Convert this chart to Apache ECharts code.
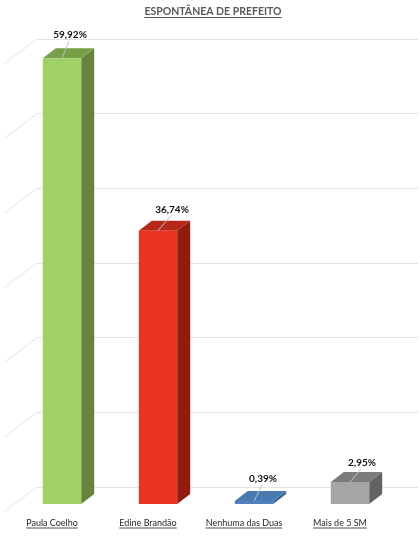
<!DOCTYPE html>
<html><head><meta charset="utf-8">
<style>html,body{margin:0;padding:0;background:#fff}#c{width:420px;height:543px}</style>
<script src="https://cdn.jsdelivr.net/npm/echarts@6/dist/echarts.min.js"></script>
</head><body><div id="c"></div>
<script>
const titleText = 'ESPONTÂNEA DE PREFEITO';
const categories = ['Paula Coelho', 'Edine Brandão', 'Nenhuma das Duas', 'Mais de 5 SM'];
const values = [59.92, 36.74, 0.39, 2.95];
const faceColors = ['#A1D066', '#E93423', '#4F81BD', '#A5A5A5'];
const sideColors = ['#67843F', '#921B10', '#3A6596', '#636363'];
const topColors = ['#789F47', '#B5281A', '#4A7AB2', '#7C7C7C'];
const leaderOffsets = [[8, -23], [14, -21], [9, -22], [12, -19]];

const FONT = 'Lato, "Open Sans", sans-serif';
const LABEL_SIZE = 9, LABEL_SHIFT = 10, LABEL_UNDERLINE_Y = 528;
const DEPTH_X = 13, DEPTH_Y = 10, BAR_W = 38.4;
const WALL_DX = 33, WALL_DY = 25;

function measure(text, font) {
  return new echarts.graphic.Text({ style: { text, font } }).getBoundingRect().width;
}
const fmt = v => v.toFixed(2).replace('.', ',') + '%';

const chart = echarts.init(document.getElementById('c'), null, { renderer: 'canvas' });
const titleFont = 'bold 10.5px ' + FONT;
const titleW = measure(titleText, titleFont);

chart.setOption({
  animation: false,
  backgroundColor: '#fff',
  title: {
    text: titleText, left: 213, top: 6, textAlign: 'center', padding: 0,
    textStyle: { fontFamily: FONT, fontSize: 10.5, fontWeight: 'bold', color: '#595959' }
  },
  graphic: [{
    type: 'line', silent: true,
    shape: { x1: 213 - titleW / 2, y1: 17.5, x2: 213 + titleW / 2, y2: 17.5 },
    style: { stroke: '#595959', lineWidth: 1 }
  }],
  grid: [
    { left: 14, width: 384, top: 57.6, height: 446.4 },
    { left: 37, right: 2, top: 39, bottom: 56 }
  ],
  xAxis: [
    { type: 'category', gridIndex: 0, data: categories,
      axisLine: { show: false }, axisTick: { show: false }, splitLine: { show: false },
      axisLabel: { interval: 0, margin: 15, padding: [0, LABEL_SHIFT * 2, 0, 0],
        fontFamily: FONT, fontSize: LABEL_SIZE, color: '#262626' } },
    { type: 'value', gridIndex: 1, show: false, min: 0, max: 1 }
  ],
  yAxis: [
    { type: 'value', gridIndex: 0, min: 0, max: 60, interval: 10,
      axisLine: { show: false }, axisTick: { show: false }, axisLabel: { show: false }, splitLine: { show: false } },
    { type: 'value', gridIndex: 1, min: 0, max: 60, interval: 10,
      axisLine: { show: false }, axisTick: { show: false }, axisLabel: { show: false },
      splitLine: { show: true, lineStyle: { color: '#E4E4E4', width: 1 } } }
  ],
  series: [
    { // side wall diagonals, one per gridline of the back wall
      type: 'custom', xAxisIndex: 1, yAxisIndex: 1, silent: true, z: 1,
      data: [0, 10, 20, 30, 40, 50, 60].map(v => [0, v]),
      renderItem(params, api) {
        const p = api.coord([0, api.value(1)]);
        return { type: 'line',
          shape: { x1: p[0], y1: p[1], x2: p[0] - WALL_DX, y2: p[1] + WALL_DY },
          style: { stroke: '#E4E4E4', lineWidth: 1 } };
      }
    },
    { // 3D bars
      type: 'custom', xAxisIndex: 0, yAxisIndex: 0, silent: true, z: 3, clip: false,
      data: values.map((v, i) => [i, v]),
      renderItem(params, api) {
        const i = api.value(0), v = api.value(1);
        const t = api.coord([i, v]), b = api.coord([i, 0]);
        const l = t[0] - BAR_W / 2, r = t[0] + BAR_W / 2;
        const poly = (pts, fill) => ({ type: 'polygon', shape: { points: pts }, style: { fill } });
        const top = t[1], bot = b[1];
        const off = leaderOffsets[i];
        const lx = t[0] + off[0], ly = top + off[1];
        const uw = measure(categories[i], LABEL_SIZE + 'px ' + FONT);
        const ucx = t[0] - LABEL_SHIFT;
        return { type: 'group', children: [
          poly([[r, top], [r + DEPTH_X, top - DEPTH_Y], [r + DEPTH_X, bot - DEPTH_Y], [r, bot]], sideColors[i]),
          poly([[l, top], [l + DEPTH_X, top - DEPTH_Y], [r + DEPTH_X, top - DEPTH_Y], [r, top]], topColors[i]),
          poly([[l, top], [r, top], [r, bot], [l, bot]], faceColors[i]),
          { type: 'line', shape: { x1: t[0], y1: top, x2: lx - 1, y2: ly + 6 },
            style: { stroke: '#B9C4C4', lineWidth: 1 } },
          { type: 'text', x: lx, y: ly,
            style: { text: fmt(v), font: 'bold 10px ' + FONT, fill: '#111', align: 'center', verticalAlign: 'middle' } },
          { type: 'line', shape: { x1: ucx - uw / 2, y1: LABEL_UNDERLINE_Y, x2: ucx + uw / 2, y2: LABEL_UNDERLINE_Y },
            style: { stroke: '#262626', lineWidth: 0.8 } }
        ] };
      }
    }
  ]
});
</script></body></html>
